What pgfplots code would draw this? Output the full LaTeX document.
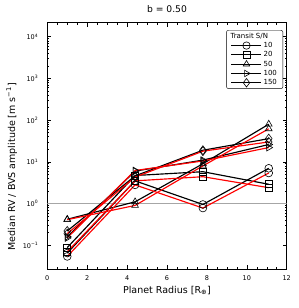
\documentclass[border=0pt]{standalone}
\usepackage{fontspec}
\setmainfont{DejaVu Sans}
\usepackage{pgfplots}
\pgfplotsset{compat=1.18}
\begin{document}
\begin{tikzpicture}
\begin{axis}[
  name=ax,
  scale only axis,
  width=239.4pt, height=246.6pt,
  xmin=0, xmax=12, ymode=log, ymin=0.0265, ymax=21700,
  xtick={0,2,4,6,8,10,12},
  minor x tick num=3,
  ytick={0.1,1,10,100,1000,10000},
  yticklabels={10\textsuperscript{−1},10\textsuperscript{0},10\textsuperscript{1},10\textsuperscript{2},10\textsuperscript{3},10\textsuperscript{4}},
  /pgf/number format/assume math mode=true,
  tick label style={font=\fontsize{6.5}{7}\selectfont},
  yticklabel style={xshift=-5.5pt},
  xticklabel style={yshift=-3pt},
  major tick length=4pt, minor tick length=2pt,
  tick style={black, line width=0.5pt},
  axis line style={line width=0.8pt},
  title={b = 0.50},
  title style={at={(rel axis cs:0.5,1)}, anchor=base, yshift=4.4pt, font=\fontsize{9.2}{10}\selectfont},
  xlabel={Planet Radius [R\textsubscript{⊕}]},
  ylabel={Median RV / BVS amplitude [m s\textsuperscript{−1}]},
  label style={font=\fontsize{9.5}{10}\selectfont},
  xlabel style={at={([yshift=-24pt]rel axis cs:0.5,0)}, anchor=base},
  ylabel style={at={([xshift=-35.6pt]rel axis cs:0,0.416)}, anchor=center},
  legend style={at={(rel axis cs:0.985,0.970)}, anchor=north east, font=\fontsize{7}{8}\selectfont, rounded corners=2pt, draw=black, line width=0.4pt, row sep=0.6pt, inner xsep=4.5pt, inner ysep=1.5pt, nodes={inner xsep=1.5pt, inner ysep=1pt}},
  legend cell align=left,
  legend image code/.code={\draw[#1, line width=1.1pt] (0pt,0pt) -- (30pt,0pt); \draw[#1] plot coordinates {(15pt,0pt)};},
  every axis plot/.append style={line width=1.15pt, mark size=3.9pt},
]
\addlegendimage{empty legend}
\addlegendentry{\makebox[0pt][l]{\hspace{-33pt}Transit S/N}}
\addlegendimage{black, mark=o, mark options={line width=0.6pt, scale=0.95}}\addlegendentry{10}
\addlegendimage{black, mark=square, mark options={line width=0.6pt, scale=0.85}}\addlegendentry{20}
\addlegendimage{black, mark=triangle, mark options={line width=0.6pt, scale=0.95}}\addlegendentry{50}
\addlegendimage{black, mark=triangle, mark options={rotate=-90, line width=0.6pt, scale=0.95}}\addlegendentry{100}
\addlegendimage{black, mark=diamond, mark options={line width=0.6pt, scale=1.1}}\addlegendentry{150}

\addplot[gray!70, line width=0.7pt, forget plot] coordinates {(0,1) (12,1)};

% black series
\addplot[black, mark=o, mark options={line width=0.6pt}, forget plot] coordinates {(1,0.065) (4.4,3.5) (7.8,0.95) (11.1,7.0)};
\addplot[black, mark=square, mark options={line width=0.6pt, scale=0.9}, forget plot] coordinates {(1,0.088) (4.4,4.7) (7.8,5.8) (11.1,2.9)};
\addplot[black, mark=triangle, mark options={line width=0.6pt}, forget plot] coordinates {(1,0.42) (4.4,1.1) (7.8,9) (11.1,80)};
\addplot[black, mark=triangle, mark options={rotate=-90, line width=0.6pt}, forget plot] coordinates {(1,0.16) (4.4,6.0) (7.8,11) (11.1,26)};
\addplot[black, mark=diamond, mark options={line width=0.6pt, scale=1.15}, forget plot] coordinates {(1,0.22) (4.4,4.6) (7.8,19) (11.1,36)};
% red series
\addplot[red, mark=o, mark options={draw=black, line width=0.6pt}, forget plot] coordinates {(1,0.054) (4.4,2.8) (7.8,0.78) (11.1,5.4)};
\addplot[red, mark=square, mark options={draw=black, line width=0.6pt, scale=0.9}, forget plot] coordinates {(1,0.07) (4.4,3.5) (7.8,4.4) (11.1,2.4)};
\addplot[red, mark=triangle, mark options={draw=black, line width=0.6pt}, forget plot] coordinates {(1,0.41) (4.4,0.9) (7.8,8) (11.1,62)};
\addplot[red, mark=triangle, mark options={rotate=-90, draw=black, line width=0.6pt}, forget plot] coordinates {(1,0.15) (4.4,6.2) (7.8,10.5) (11.1,22)};
\addplot[red, mark=diamond, mark options={draw=black, line width=0.6pt, scale=1.15}, forget plot] coordinates {(1,0.19) (4.4,4.3) (7.8,18) (11.1,30)};
\end{axis}
\pgfresetboundingbox
\path ([shift={(-47.3pt,-38.7pt)}]ax.south west) rectangle ([shift={(12.3pt,22.7pt)}]ax.north east);
\end{tikzpicture}
\end{document}
